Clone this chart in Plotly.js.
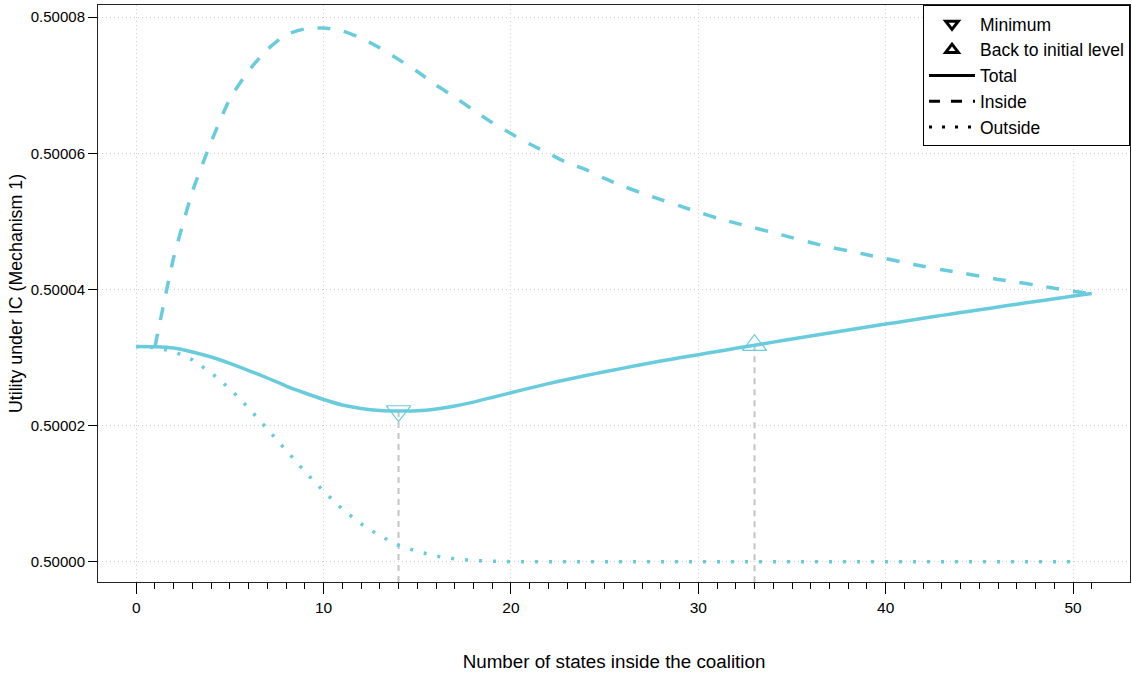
<!DOCTYPE html>
<html>
<head>
<meta charset="utf-8">
<script src="https://cdn.plot.ly/plotly-3.0.1.min.js"></script>
<style>html,body{margin:0;padding:0;background:#fff;}#chart{width:1132px;height:677px;}</style>
</head>
<body>
<div id="chart"></div>
<script>
// Values are utility minus 0.5, in units of 1e-5
var xTotal = [0,1,2,3,4,5,6,7,8,9,10,11,12,13,14,15,16,17,18,19,20,21,22,23,24,25,26,27,28,29,30,31,32,33,34,35,36,37,38,39,40,41,42,43,44,45,46,47,48,49,50,51];
var totalE5 = [3.163,3.160,3.141,3.082,3.008,2.916,2.810,2.700,2.582,2.480,2.384,2.303,2.252,2.223,2.215,2.218,2.245,2.289,2.346,2.414,2.484,2.552,2.617,2.679,2.737,2.791,2.845,2.898,2.949,2.997,3.043,3.089,3.136,3.182,3.227,3.273,3.317,3.361,3.405,3.449,3.492,3.534,3.577,3.620,3.661,3.702,3.743,3.784,3.824,3.863,3.903,3.940];
var xInside = [1,2,3,4,5,6,7,8,9,10,11,12,13,14,15,16,17,18,19,20,21,22,23,24,25,26,27,28,29,30,31,32,33,34,35,36,37,38,39,40,41,42,43,44,45,46,47,48,49,50,51];
var insideE5 = [3.160,4.470,5.438,6.170,6.803,7.214,7.526,7.743,7.828,7.840,7.799,7.695,7.549,7.380,7.202,7.003,6.825,6.635,6.452,6.290,6.137,5.999,5.861,5.760,5.631,5.517,5.415,5.321,5.228,5.138,5.050,4.975,4.906,4.834,4.762,4.690,4.623,4.569,4.510,4.455,4.395,4.341,4.291,4.245,4.198,4.148,4.109,4.065,4.019,3.974,3.940];
var xOutside = [0,1,2,3,4,5,6,7,8,9,10,11,12,13,14,15,16,17,18,19,20,21,22,23,24,25,26,27,28,29,30,31,32,33,34,35,36,37,38,39,40,41,42,43,44,45,46,47,48,49,50];
var outsideE5 = [3.163,3.148,3.089,2.967,2.776,2.541,2.259,1.946,1.635,1.326,1.037,0.773,0.558,0.383,0.242,0.151,0.085,0.044,0.018,0.006,0.002,0.001,0,0,0,0,0,0,0,0,0,0,0,0,0,0,0,0,0,0,0,0,0,0,0,0,0,0,0,0,0];
var xMinimum = 14;
var xBack = 33;
var baseLevel = 0.5;
var yTickVals = [0.5, 0.50002, 0.50004, 0.50006, 0.50008];
var xTickVals = [0, 10, 20, 30, 40, 50];
var legendNames = ['Minimum', 'Back to initial level', 'Total', 'Inside', 'Outside'];

function toU(a){ return a.map(function(v){ return baseLevel + v*1e-5; }); }
var total = toU(totalE5), inside = toU(insideE5), outside = toU(outsideE5);
var yLow = 0.499997035, yHigh = 0.50008179;

var teal = '#69CCDD';
var font = 'Liberation Sans, Arial, sans-serif';

var traces = [
  {x:[xMinimum,xMinimum], y:[total[xTotal.indexOf(xMinimum)], yLow], mode:'lines', line:{color:'#C4C4C4', width:2, dash:'6px,5px'}, showlegend:false, hoverinfo:'skip'},
  {x:[xBack,xBack], y:[total[xTotal.indexOf(xBack)], yLow], mode:'lines', line:{color:'#C4C4C4', width:2, dash:'6px,5px'}, showlegend:false, hoverinfo:'skip'},
  {x:xOutside, y:outside, mode:'lines', line:{color:teal, width:3.5, dash:'3px,11px'}, showlegend:false},
  {x:xInside, y:inside, mode:'lines', line:{color:teal, width:3.5, dash:'13px,14px', shape:'spline', smoothing:0.5}, showlegend:false},
  {x:xTotal, y:total, mode:'lines', line:{color:teal, width:3.5, shape:'spline', smoothing:0.5}, showlegend:false},
  {x:[xMinimum], y:[total[xTotal.indexOf(xMinimum)]], mode:'markers', marker:{symbol:'triangle-down-open', size:21, color:teal, line:{width:1.2, color:teal}}, showlegend:false},
  {x:[xBack], y:[total[xTotal.indexOf(xBack)]], mode:'markers', marker:{symbol:'triangle-up-open', size:21, color:teal, line:{width:1.2, color:teal}}, showlegend:false},
  // legend entries
  {x:[null], y:[null], name:legendNames[0], mode:'markers', marker:{symbol:'triangle-down-open', size:11, color:'#000', line:{width:3, color:'#000'}}},
  {x:[null], y:[null], name:legendNames[1], mode:'markers', marker:{symbol:'triangle-up-open', size:11, color:'#000', line:{width:3, color:'#000'}}},
  {x:[null], y:[null], name:legendNames[2], mode:'lines', line:{color:'#000', width:3}},
  {x:[null], y:[null], name:legendNames[3], mode:'lines', line:{color:'#000', width:3, dash:'11px,11px'}},
  {x:[null], y:[null], name:legendNames[4], mode:'lines', line:{color:'#000', width:3, dash:'3px,10px'}}
];

var layout = {
  width:1132, height:677,
  margin:{l:98, r:2, t:5, b:95},
  paper_bgcolor:'#fff', plot_bgcolor:'#fff',
  font:{family:font, size:15, color:'#000'},
  showlegend:true,
  legend:{x:1, xanchor:'right', y:1, yanchor:'top', bgcolor:'#fff', bordercolor:'#000', borderwidth:1, font:{family:font, size:17.5, color:'#000'}, tracegroupgap:0, itemwidth:46},
  xaxis:{
    range:[-2.04, 53.04], tickvals:xTickVals, ticks:'outside', ticklen:11, tickwidth:1, tickcolor:'#000',
    showline:true, mirror:true, linecolor:'#222', linewidth:1,
    showgrid:true, gridcolor:'#D0D0D0', griddash:'1px,3px', gridwidth:1, zeroline:false,
    minor:{tickvals:xTotal, ticks:'outside', ticklen:6, tickwidth:1, tickcolor:'#000', showgrid:false},
    tickfont:{size:15.5},
    title:{text:'Number of states inside the coalition', font:{size:18.8}, standoff:40}
  },
  yaxis:{
    range:[yLow, yHigh], tickvals:yTickVals, tickformat:'.5f', ticks:'outside', ticklen:9, tickwidth:1, tickcolor:'#000',
    showline:true, mirror:true, linecolor:'#222', linewidth:1,
    showgrid:true, gridcolor:'#D0D0D0', griddash:'1px,3px', gridwidth:1, zeroline:false,
    tickfont:{size:15},
    title:{text:'Utility under IC (Mechanism 1)', font:{size:17.8}, standoff:3}
  }
};

Plotly.newPlot('chart', traces, layout, {displayModeBar:false, staticPlot:true});
</script>
</body>
</html>
